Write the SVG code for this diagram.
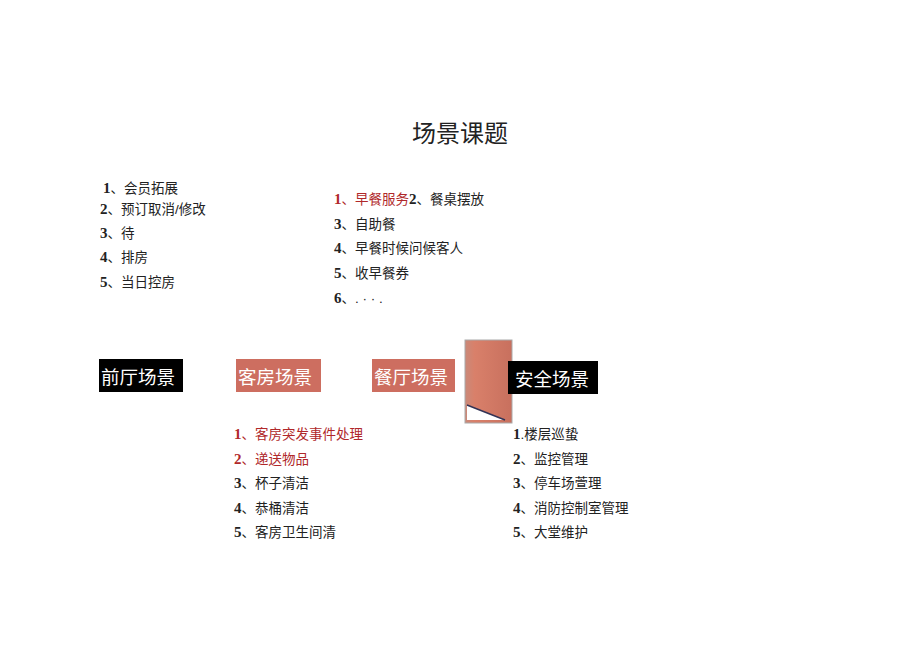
<svg xmlns="http://www.w3.org/2000/svg" width="920" height="651" viewBox="0 0 920 651">
<defs><style>
.t{font-family:"Liberation Sans","Noto Sans CJK SC",sans-serif;font-size:13.5px;fill:#222}
.n{font-family:"Liberation Serif",serif;font-weight:bold;font-size:15px}
.r{fill:#b0282a}
.h{font-family:"Liberation Sans","Noto Sans CJK SC",sans-serif;font-size:18.5px;fill:#fff}
</style>
<linearGradient id="g" x1="0" x2="1"><stop offset="0" stop-color="#c98a7a"/><stop offset="0.2" stop-color="#d9806a"/><stop offset="1" stop-color="#c8705e"/></linearGradient></defs>
<rect width="920" height="651" fill="#fff"/>
<text x="460" y="142" text-anchor="middle" font-family="Liberation Sans,Noto Sans CJK SC,sans-serif" font-size="24" fill="#222">场景课题</text>
<g id="list1" class="t">
<text x="103" y="193"><tspan class="n">1</tspan>、会员拓展</text>
<text x="100" y="214"><tspan class="n">2</tspan>、预订取消/修改</text>
<text x="100" y="238"><tspan class="n">3</tspan>、待</text>
<text x="100" y="262"><tspan class="n">4</tspan>、排房</text>
<text x="100" y="287"><tspan class="n">5</tspan>、当日控房</text>
</g>
<g id="list2" class="t">
<text x="334" y="204"><tspan class="n r">1</tspan><tspan class="r">、早餐服务</tspan><tspan class="n">2</tspan>、餐桌摆放</text>
<text x="334" y="229"><tspan class="n">3</tspan>、自助餐</text>
<text x="334" y="253"><tspan class="n">4</tspan>、早餐时候问候客人</text>
<text x="334" y="278"><tspan class="n">5</tspan>、收早餐券</text>
<text x="334" y="303"><tspan class="n">6</tspan>、. · · .</text>
</g>
<g id="node-front"><rect x="99" y="359" width="84" height="33" fill="#000"/><text class="h" x="101" y="384">前厅场景</text></g>
<g id="node-room"><rect x="236" y="359" width="85" height="33" fill="#cd6e60"/><text class="h" x="238" y="384">客房场景</text></g>
<g id="node-rest"><rect x="372" y="359" width="83" height="33" fill="#cd6e60"/><text class="h" x="374" y="384">餐厅场景</text></g>
<g id="pillar"><rect x="465" y="340" width="47" height="83" fill="url(#g)"/><polygon points="467,405 505,420 467,420" fill="#fff"/><line x1="467" y1="405" x2="505" y2="420" stroke="#335" stroke-width="1.5"/><rect x="465" y="340" width="47" height="83" fill="none" stroke="#aaa"/></g>
<g id="node-safe"><rect x="508" y="361" width="90" height="33" fill="#000"/><text class="h" x="515" y="386">安全场景</text></g>
<g id="list3" class="t">
<text x="234" y="439"><tspan class="n r">1</tspan><tspan class="r">、客房突发事件处理</tspan></text>
<text x="234" y="464"><tspan class="n r">2</tspan><tspan class="r">、递送物品</tspan></text>
<text x="234" y="488"><tspan class="n">3</tspan>、杯子清洁</text>
<text x="234" y="513"><tspan class="n">4</tspan>、恭桶清洁</text>
<text x="234" y="537"><tspan class="n">5</tspan>、客房卫生间清</text>
</g>
<g id="list4" class="t">
<text x="513" y="439"><tspan class="n">1</tspan>.楼层巡蛰</text>
<text x="513" y="464"><tspan class="n">2</tspan>、监控管理</text>
<text x="513" y="488"><tspan class="n">3</tspan>、停车场萱理</text>
<text x="513" y="513"><tspan class="n">4</tspan>、消防控制室管理</text>
<text x="513" y="537"><tspan class="n">5</tspan>、大堂维护</text>
</g>
<g id="connectors"/>
</svg>
